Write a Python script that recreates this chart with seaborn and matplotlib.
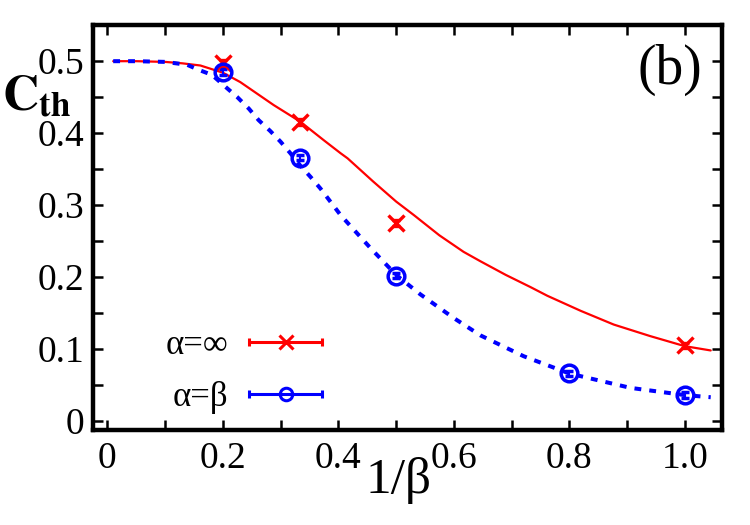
#!/usr/bin/env python3

import numpy as np
import pandas as pd
import seaborn as sns
from matplotlib import pyplot as plt
from matplotlib.container import ErrorbarContainer
from matplotlib.legend_handler import HandlerErrorbar
from matplotlib.ticker import FixedLocator

# curves
red_curve_x = [0.01, 0.05, 0.10, 0.13, 0.161, 0.20, 0.23, 0.259, 0.288, 0.334, 0.375, 0.404,
               0.416, 0.46, 0.50, 0.531, 0.575, 0.617, 0.646, 0.69, 0.733, 0.762, 0.82,
               0.877, 0.94, 1.0, 1.045]
red_curve_y = [0.500, 0.500, 0.499, 0.497, 0.494, 0.484, 0.471, 0.455, 0.439, 0.416, 0.390, 0.372,
               0.365, 0.333, 0.305, 0.286, 0.258, 0.235, 0.222, 0.203, 0.186, 0.174, 0.153,
               0.134, 0.118, 0.104, 0.098]

blue_curve_x = [0.01, 0.05, 0.10, 0.138, 0.158, 0.181, 0.205, 0.225, 0.245, 0.262, 0.282, 0.30,
                0.317, 0.334, 0.352, 0.369, 0.404, 0.456, 0.50, 0.542, 0.60, 0.646, 0.721,
                0.80, 0.906, 1.0, 1.045]
blue_curve_y = [0.500, 0.500, 0.499, 0.495, 0.488, 0.481, 0.464, 0.450, 0.434, 0.418, 0.403, 0.388,
                0.372, 0.355, 0.339, 0.323, 0.286, 0.240, 0.203, 0.176, 0.143, 0.119, 0.090,
                0.066, 0.046, 0.036, 0.033]

# simulation points
red_x = [0.2, 1 / 3, 0.5, 1.0]
red_y = [0.497, 0.415, 0.275, 0.105]
red_err = [0.004, 0.004, 0.004, 0.004]

blue_x = [0.2, 1 / 3, 0.5, 0.8, 1.0]
blue_y = [0.485, 0.366, 0.202, 0.066, 0.036]
blue_err = [0.004, 0.004, 0.004, 0.004, 0.004]

labels = ["α=∞", "α=β"]
xticks = [0, 0.2, 0.4, 0.6, 0.8, 1.0]
xticklabels = ["0", "0.2", "0.4", "0.6", "0.8", "1.0"]
yticks = [0, 0.1, 0.2, 0.3, 0.4, 0.5]
yticklabels = ["0", "0.1", "0.2", "0.3", "0.4", "0.5"]

sns.set_style("ticks")
plt.rcParams['font.family'] = ['Liberation Serif', 'DejaVu Serif']
plt.rcParams['mathtext.fontset'] = 'stix'
plt.rcParams.update({'text.color': 'black', 'xtick.color': 'black', 'ytick.color': 'black',
                     'axes.labelcolor': 'black', 'axes.edgecolor': 'black'})

fig = plt.figure(figsize=(7.5, 5.25), dpi=100)
ax = fig.add_axes([0.124, 0.181, 0.839, 0.771])

red_df = pd.DataFrame({'x': red_curve_x, 'y': red_curve_y})
blue_df = pd.DataFrame({'x': blue_curve_x, 'y': blue_curve_y})
sns.lineplot(x='x', y='y', data=red_df, sort=False, estimator=None, color='red', lw=1.6, ax=ax)
sns.lineplot(x='x', y='y', data=blue_df, sort=False, estimator=None, color='blue', lw=2.9,
             ax=ax).lines[-1].set_dashes((1.7, 2.0))

ax.errorbar(red_x, red_y, yerr=red_err, fmt='x', color='red', ms=11, mew=2.4,
            capsize=3, elinewidth=1.5, capthick=1.5, zorder=5)
ax.errorbar(blue_x, blue_y, yerr=blue_err, fmt='o', color='blue', ms=12, mew=2.5, mfc='none',
            capsize=3, elinewidth=1.5, capthick=1.5, zorder=5)

# legend proxies with horizontal bars
h1 = ax.errorbar([np.nan], [np.nan], xerr=[0.1], fmt='x', color='red', ms=10, mew=2.2,
                 capsize=3, elinewidth=2.2, capthick=2.2)
h2 = ax.errorbar([np.nan], [np.nan], xerr=[0.1], fmt='o', color='blue', ms=9, mew=2.2,
                 mfc='none', capsize=3, elinewidth=2.2, capthick=2.2)
ax.legend([h1, h2], labels, loc='center', bbox_to_anchor=(0.24, 0.145), frameon=False,
          markerfirst=False, numpoints=1, fontsize=25, handlelength=2.1, handletextpad=0.6,
          labelspacing=0.55,
          handler_map={ErrorbarContainer: HandlerErrorbar(xerr_size=1.05)})

ax.set_xlim(-0.025, 1.065)
ax.set_ylim(-0.0125, 0.55)
ax.xaxis.set_major_locator(FixedLocator(xticks))
ax.xaxis.set_minor_locator(FixedLocator([0.1, 0.3, 0.5, 0.7, 0.9]))
ax.yaxis.set_major_locator(FixedLocator(yticks))
ax.yaxis.set_minor_locator(FixedLocator([0.05, 0.15, 0.25, 0.35, 0.45]))
ax.set_xticklabels(xticklabels)
ax.set_yticklabels(yticklabels)
ax.tick_params(which='both', direction='in', top=True, right=True, length=7, width=1.8,
               labelsize=27, color='black', labelcolor='black')
ax.tick_params(axis='x', pad=8)
ax.tick_params(axis='y', pad=6)
for s in ax.spines.values():
    s.set_linewidth(3.2)
    s.set_color('black')
ax.set_xlabel("")
ax.set_ylabel("")

ax.text(0.485, -0.156, "1/β", transform=ax.transAxes, ha='center', va='baseline', fontsize=37)
ax.text(-0.09, 0.82, r"$\mathbf{C}_{\mathbf{th}}$", transform=ax.transAxes, ha='center',
        va='center', fontsize=36)
ax.text(0.968, 0.889, "(b)", transform=ax.transAxes, ha='right', va='center', fontsize=40)

plt.savefig("out.png", dpi=100)
